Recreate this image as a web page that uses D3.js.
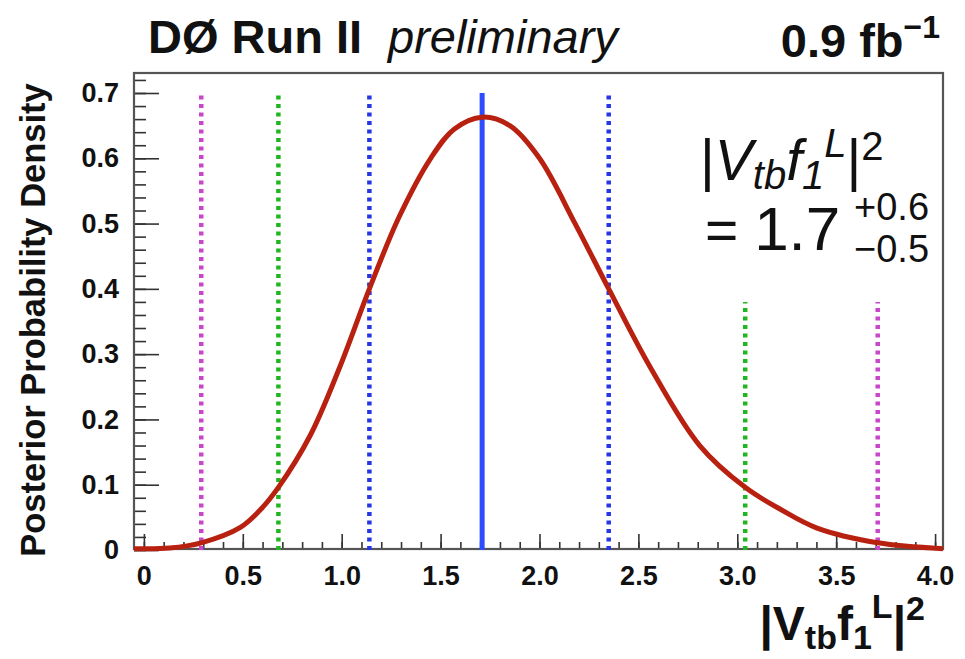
<!DOCTYPE html>
<html>
<head>
<meta charset="utf-8">
<script src="https://cdn.jsdelivr.net/npm/d3@7"></script>
<style>
  body { margin: 0; background: #fff; }
  svg { font-family: "Liberation Sans", Arial, sans-serif; }
</style>
</head>
<body>
<svg id="chart" width="965" height="659"></svg>
<script>
// posterior curve
const curveX = [-0.05, 0.13, 0.29, 0.49, 0.59, 0.68, 0.84, 0.99, 1.14, 1.29, 1.45, 1.57, 1.71, 1.85, 2.0, 2.18, 2.35, 2.56, 2.81, 3.04, 3.22, 3.40, 3.71, 4.04];
const curveY = [0.002, 0.003, 0.011, 0.035, 0.062, 0.096, 0.175, 0.28, 0.40, 0.51, 0.60, 0.645, 0.663, 0.65, 0.60, 0.50, 0.40, 0.28, 0.16, 0.096, 0.062, 0.034, 0.011, 0.002];

// interval markers (68%, 95%, 99%) and the most probable value
const markerX = [0.29, 0.68, 1.14, 1.71, 2.35, 3.04, 3.71];
const markerTop = [0.7, 0.7, 0.7, 0.7, 0.7, 0.38, 0.38];
const markerKind = ["c99", "c95", "c68", "peak", "c68", "c95", "c99"];

const xTicks = [0, 0.5, 1.0, 1.5, 2.0, 2.5, 3.0, 3.5, 4.0];
const xTickLabels = ["0", "0.5", "1.0", "1.5", "2.0", "2.5", "3.0", "3.5", "4.0"];
const yTicks = [0, 0.1, 0.2, 0.3, 0.4, 0.5, 0.6, 0.7];
const yTickLabels = ["0", "0.1", "0.2", "0.3", "0.4", "0.5", "0.6", "0.7"];

const kindStyle = {
  c99: { color: "#c847c8", dash: "4,4.5", width: 4.5 },
  c95: { color: "#22b522", dash: "4,4.5", width: 4.5 },
  c68: { color: "#2635e6", dash: "4,4.5", width: 4.5 },
  peak: { color: "#2b4cff", dash: null, width: 5 }
};

const svg = d3.select("#chart");
const mLeft = 134, mRight = 943, mTop = 73, mBottom = 549;

const x = d3.scaleLinear().domain([-0.05, 4.04]).range([mLeft, mRight]);
const y = d3.scaleLinear().domain([0, 0.7]).range([550, 93]);

// minor/major ticks drawn inside the frame
const gxMinor = svg.append("g").attr("transform", `translate(0,${mBottom})`)
  .call(d3.axisBottom(x).tickValues(d3.range(0, 4.0001, 0.1)).tickSize(-7).tickFormat(""));
const gx = svg.append("g").attr("transform", `translate(0,${mBottom})`)
  .call(d3.axisBottom(x).tickValues(xTicks).tickSize(-15).tickPadding(17)
    .tickFormat((d, i) => xTickLabels[i]));

const yMax = y.invert(mTop);
const gyMinor = svg.append("g").attr("transform", `translate(${mLeft},0)`)
  .call(d3.axisLeft(y).tickValues(d3.range(0, yMax, 0.02)).tickSize(-12).tickFormat(""));
const gy = svg.append("g").attr("transform", `translate(${mLeft},0)`)
  .call(d3.axisLeft(y).tickValues(yTicks).tickSize(-25).tickPadding(15)
    .tickFormat((d, i) => yTickLabels[i]));

[gxMinor, gx, gyMinor, gy].forEach(g => {
  g.select(".domain").remove();
  g.selectAll(".tick line").attr("stroke", "#333").attr("stroke-width", 1.6);
});
gx.selectAll(".tick text").attr("font-size", 27).attr("font-weight", "bold").attr("fill", "#111");
gy.selectAll(".tick text").attr("font-size", 27).attr("font-weight", "bold").attr("fill", "#111");

// frame
svg.append("rect").attr("x", mLeft).attr("y", mTop).attr("width", mRight - mLeft).attr("height", mBottom - mTop)
  .attr("fill", "none").attr("stroke", "#555").attr("stroke-width", 2.2);

// markers
svg.append("g").selectAll("line").data(markerX).join("line")
  .attr("x1", d => x(d)).attr("x2", d => x(d))
  .attr("y1", y(0)).attr("y2", (d, i) => y(markerTop[i]))
  .attr("stroke", (d, i) => kindStyle[markerKind[i]].color)
  .attr("stroke-width", (d, i) => kindStyle[markerKind[i]].width)
  .attr("stroke-dasharray", (d, i) => kindStyle[markerKind[i]].dash);

// curve
const line = d3.line().x(d => x(d[0])).y(d => y(d[1])).curve(d3.curveCatmullRom.alpha(0.5));
svg.append("path").datum(d3.zip(curveX, curveY))
  .attr("d", line).attr("fill", "none").attr("stroke", "#b82010").attr("stroke-width", 5);

// header
svg.append("text").attr("x", 148).attr("y", 53).attr("font-size", 47).attr("font-weight", "bold")
  .attr("fill", "#111").text("DØ Run II");
svg.append("text").attr("x", 388).attr("y", 53).attr("font-size", 47).attr("font-style", "italic")
  .attr("fill", "#111").text("preliminary");
const lum = svg.append("text").attr("x", 940).attr("y", 57).attr("text-anchor", "end")
  .attr("font-size", 47).attr("font-weight", "bold").attr("fill", "#111");
lum.append("tspan").text("0.9 fb");
lum.append("tspan").attr("font-size", 32).attr("dy", -19).text("−1");

// axis titles
svg.append("text").attr("transform", "translate(45,320) rotate(-90)").attr("text-anchor", "middle")
  .attr("font-size", 34.5).attr("font-weight", "bold").attr("fill", "#111")
  .text("Posterior Probability Density");

const xt = svg.append("text").attr("x", 925).attr("y", 640).attr("text-anchor", "end")
  .attr("font-size", 48).attr("font-weight", "bold").attr("fill", "#111");
xt.append("tspan").text("|V");
xt.append("tspan").attr("font-size", 34).attr("dy", 9).text("tb");
xt.append("tspan").attr("dy", -9).text("f");
xt.append("tspan").attr("font-size", 34).attr("dy", 9).text("1");
xt.append("tspan").attr("font-size", 34).attr("dy", -31).text("L");
xt.append("tspan").attr("dy", 22).text("|");
xt.append("tspan").attr("font-size", 34).attr("dy", -20).text("2");

// result annotation
const a1 = svg.append("text").attr("x", 700).attr("y", 180).attr("font-size", 57).attr("fill", "#111");
a1.append("tspan").text("|");
a1.append("tspan").attr("font-style", "italic").text("V");
a1.append("tspan").attr("font-style", "italic").attr("font-size", 40).attr("dy", 9).text("tb");
a1.append("tspan").attr("font-style", "italic").attr("dy", -9).text("f");
a1.append("tspan").attr("font-style", "italic").attr("font-size", 40).attr("dy", 9).text("1");
a1.append("tspan").attr("font-style", "italic").attr("font-size", 40).attr("dy", -32).text("L");
a1.append("tspan").attr("dy", 23).text("|");
a1.append("tspan").attr("font-size", 40).attr("dy", -20).text("2");

const a2 = svg.append("text").attr("x", 705).attr("y", 250).attr("font-size", 57).attr("fill", "#111");
a2.append("tspan").text("= ");
a2.append("tspan").attr("font-size", 62).text("1.7");
svg.append("text").attr("x", 854).attr("y", 220).attr("font-size", 38).attr("fill", "#111").text("+0.6");
svg.append("text").attr("x", 854).attr("y", 262).attr("font-size", 38).attr("fill", "#111").text("−0.5");
</script>
</body>
</html>
